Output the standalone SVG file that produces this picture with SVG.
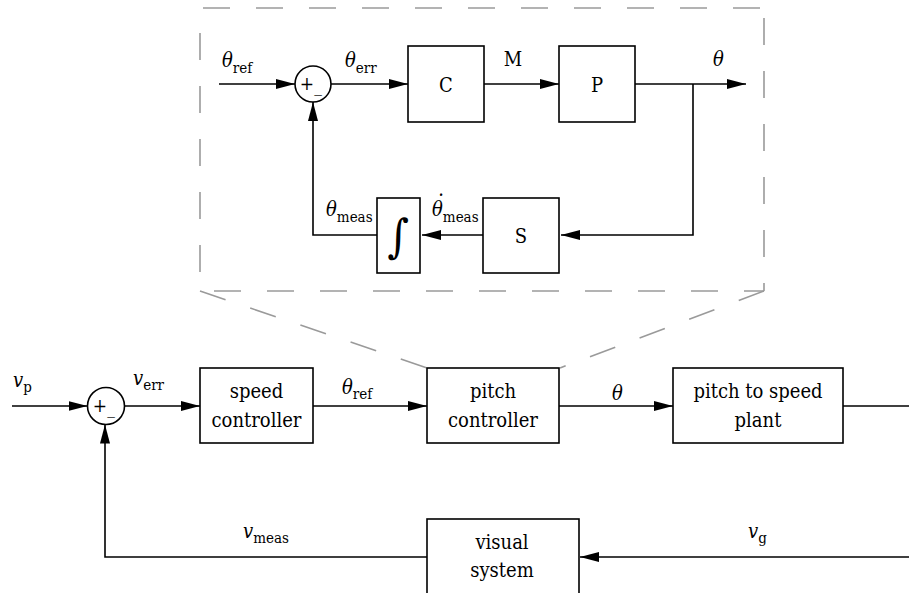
<svg xmlns="http://www.w3.org/2000/svg" width="909" height="593" viewBox="0 0 909 593">
<style>
.b{font-size:20px;text-anchor:middle}
.m{font-size:20px;font-style:italic}
.s{font-size:15px}
.box{fill:#fff;stroke:#000;stroke-width:1.6}
.ln{fill:none;stroke:#000;stroke-width:1.6}
.ar{fill:none;stroke:#000;stroke-width:1.6;marker-end:url(#ah)}
.dash{fill:none;stroke:#9a9a9a;stroke-width:1.6;stroke-dasharray:27 26}
</style>
<defs>
<marker id="ah" viewBox="0 0 19 10" refX="19" refY="5" markerWidth="19" markerHeight="10" markerUnits="userSpaceOnUse" orient="auto">
<path d="M0,0 L19,5 L0,10 Z" fill="#000"/>
</marker>
</defs>
<rect width="909" height="593" fill="#fff"/>

<g id="zoom-frame">
<path class="dash" d="M203,8 H764"/>
<path class="dash" d="M764,8 V291" style="stroke-dashoffset:-10"/>
<path class="dash" d="M214,291 H764"/>
<path class="dash" d="M200,33 V291"/>
<path class="dash" d="M200,291 L427,368"/>
<path class="dash" d="M764,291 L560,368"/>
</g>

<g id="connectors">
<path class="ar" d="M219,84 H295"/>
<path class="ar" d="M331,84 H408"/>
<path class="ar" d="M484,84 H559"/>
<path class="ar" d="M635,84 H746"/>
<path class="ar" d="M693,84 V235 H561"/>
<path class="ar" d="M483,235 H422"/>
<path class="ar" d="M377,235 H313 V102"/>
<path class="ar" d="M12,406 H87.5"/>
<path class="ar" d="M124.5,406 H200"/>
<path class="ar" d="M313,406 H427"/>
<path class="ar" d="M559,406 H673"/>
<path class="ln" d="M843,406 H909"/>
<path class="ar" d="M909,557 H580"/>
<path class="ar" d="M427,557 H105 V424.5"/>
</g>

<g font-family="DejaVu Serif Condensed, DejaVu Serif, serif" font-stretch="condensed" fill="#000">
<g id="sum-inner">
<circle cx="313" cy="84" r="18" class="box"/>
<text x="307" y="90" font-size="19" text-anchor="middle">+</text>
<text x="318" y="92" font-size="17" text-anchor="middle">_</text>
</g>
<g id="C"><rect class="box" x="408" y="46" width="76" height="76"/><text class="b" x="446" y="92">C</text></g>
<g id="P"><rect class="box" x="559" y="46" width="76" height="76"/><text class="b" x="597" y="92">P</text></g>
<g id="S"><rect class="box" x="483" y="198" width="76" height="75"/><text class="b" x="521" y="243">S</text></g>
<g id="integrator"><rect class="box" x="377" y="198" width="43" height="75"/><text x="398" y="252" font-size="46" text-anchor="middle">∫</text></g>

<g id="sum-outer">
<circle cx="106" cy="406" r="18.5" class="box"/>
<text x="100" y="412" font-size="19" text-anchor="middle">+</text>
<text x="111" y="414" font-size="17" text-anchor="middle">_</text>
</g>
<g id="speed-controller"><rect class="box" x="200" y="368" width="113" height="75"/><text class="b" x="256.5" y="398">speed</text><text class="b" x="256.5" y="427">controller</text></g>
<g id="pitch-controller"><rect class="box" x="427" y="368" width="132" height="75"/><text class="b" x="493" y="398">pitch</text><text class="b" x="493" y="427">controller</text></g>
<g id="plant"><rect class="box" x="673" y="368" width="170" height="75"/><text class="b" x="758" y="398">pitch to speed</text><text class="b" x="758" y="427">plant</text></g>
<g id="visual-system"><rect class="box" x="427" y="519" width="152" height="100"/><text class="b" x="502" y="549">visual</text><text class="b" x="502" y="577">system</text></g>

<g id="labels">
<text x="222" y="67"><tspan class="m">θ</tspan><tspan class="s" dy="6">ref</tspan></text>
<text x="345" y="67"><tspan class="m">θ</tspan><tspan class="s" dy="6">err</tspan></text>
<text x="513" y="66" font-size="20" text-anchor="middle">M</text>
<text x="713" y="66" class="m">θ</text>
<text x="326" y="216"><tspan class="m">θ</tspan><tspan class="s" dy="6">meas</tspan></text>
<text x="432" y="216"><tspan class="m">θ</tspan><tspan class="s" dy="6">meas</tspan></text>
<text x="441" y="202" font-size="20" text-anchor="middle">·</text>
<text x="13" y="387"><tspan class="m">v</tspan><tspan class="s" dy="5">p</tspan></text>
<text x="133" y="385"><tspan class="m">v</tspan><tspan class="s" dy="5">err</tspan></text>
<text x="342" y="394"><tspan class="m">θ</tspan><tspan class="s" dy="5">ref</tspan></text>
<text x="612" y="400" class="m">θ</text>
<text x="243" y="538"><tspan class="m">v</tspan><tspan class="s" dy="5">meas</tspan></text>
<text x="748" y="538"><tspan class="m">v</tspan><tspan class="s" dy="5">g</tspan></text>
</g>
</g>
</svg>
